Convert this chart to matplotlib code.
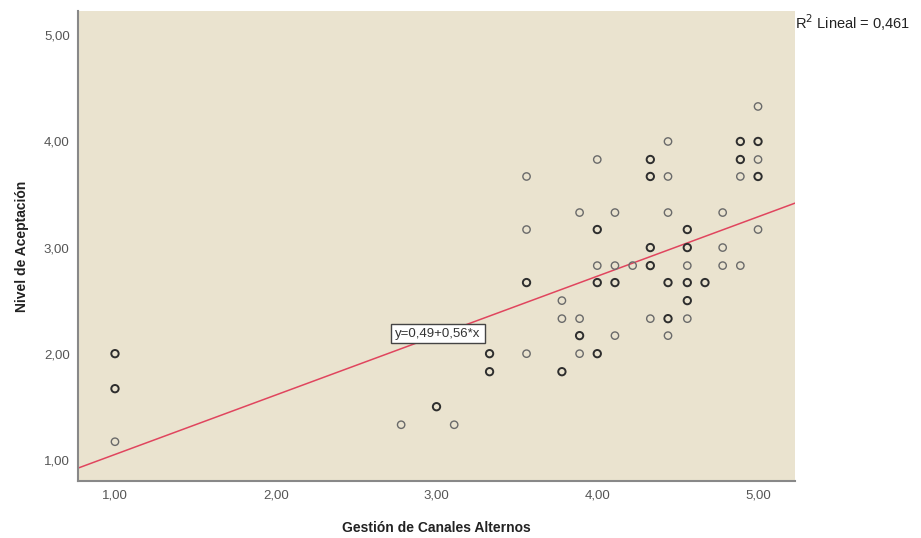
#!/usr/bin/env python3
"""SPSS-style scatter: Gestión de Canales Alternos vs Nivel de Aceptación."""

import matplotlib
matplotlib.use("Agg")
import matplotlib.pyplot as plt
import numpy as np

# Points (x, y) and number of cases stacked on each one.
gestion = [
    1.00, 1.00, 1.00,
    2.78, 3.00, 3.11,
    3.33, 3.33,
    3.56, 3.56, 3.56, 3.56,
    3.78, 3.78, 3.78,
    3.89, 3.89, 3.89, 3.89,
    4.00, 4.00, 4.00, 4.00, 4.00,
    4.11, 4.11, 4.11, 4.11,
    4.22,
    4.33, 4.33, 4.33, 4.33, 4.33,
    4.44, 4.44, 4.44, 4.44, 4.44, 4.44,
    4.56, 4.56, 4.56, 4.56, 4.56, 4.56,
    4.67,
    4.78, 4.78, 4.78,
    4.89, 4.89, 4.89, 4.89,
    5.00, 5.00, 5.00, 5.00, 5.00,
]
aceptacion = [
    2.00, 1.67, 1.17,
    1.33, 1.50, 1.33,
    2.00, 1.83,
    3.67, 3.17, 2.67, 2.00,
    2.50, 2.33, 1.83,
    3.33, 2.33, 2.17, 2.00,
    3.83, 3.17, 2.83, 2.67, 2.00,
    3.33, 2.83, 2.67, 2.17,
    2.83,
    3.83, 3.67, 3.00, 2.83, 2.33,
    4.00, 3.67, 3.33, 2.67, 2.33, 2.17,
    3.17, 3.00, 2.83, 2.67, 2.50, 2.33,
    2.67,
    3.33, 3.00, 2.83,
    4.00, 3.83, 3.67, 2.83,
    4.33, 4.00, 3.83, 3.67, 3.17,
]
casos = [
    2, 2, 1,
    1, 2, 1,
    2, 2,
    1, 1, 2, 1,
    1, 1, 2,
    1, 1, 2, 1,
    1, 2, 1, 2, 2,
    1, 1, 2, 1,
    1,
    2, 2, 2, 2, 1,
    1, 1, 1, 2, 2, 1,
    2, 2, 1, 2, 2, 1,
    2,
    1, 1, 1,
    2, 2, 1, 1,
    1, 2, 1, 2, 1,
]

intercepto = 0.49
pendiente = 0.56
r2 = 0.461

x_ticks = [1, 2, 3, 4, 5]
y_ticks = [1, 2, 3, 4, 5]

FONT = ["Liberation Sans", "DejaVu Sans"]


def coma(v):
    return f"{v:.2f}".replace(".", ",")


def main():
    fig = plt.figure(figsize=(9.21, 5.38), dpi=100, facecolor="white")
    ax = fig.add_axes([0.0847, 0.106, 0.7785, 0.8736], facecolor="#EAE3CF")

    xlim = (0.77, 5.23)
    ylim = (0.80, 5.23)

    x = np.array(gestion)
    y = np.array(aceptacion)
    n = np.array(casos)
    edge = np.where(n > 1, "#2e2e2e", "#6a6a6a")
    lw = np.where(n > 1, 1.4, 1.0)
    ax.scatter(x, y, s=28, facecolors="none", edgecolors=edge, linewidths=lw, zorder=3)

    # Linear fit line across the full x range.
    xs = np.array(xlim)
    ax.plot(xs, intercepto + pendiente * xs, color="#E0455E", lw=1.1, zorder=2)

    ax.text(3.01, 2.19, f"y={coma(intercepto)}+{coma(pendiente)}*x", ha="center", va="center",
            fontsize=9.5, family=FONT, color="#333333", zorder=4,
            bbox=dict(boxstyle="square,pad=0.3", fc="white", ec="#444444", lw=1.0))

    fig.text(0.8635, 0.957, f"R$^2$ Lineal = {r2:.3f}".replace(".", ","), ha="left", va="center",
             fontsize=10.5, family=FONT, color="#222222")

    ax.set_xlim(*xlim)
    ax.set_ylim(*ylim)
    ax.set_xticks(x_ticks)
    ax.set_yticks(y_ticks)
    ax.set_xticklabels([coma(t) for t in x_ticks], family=FONT, fontsize=9.5, color="#555555")
    ax.set_yticklabels([coma(t) for t in y_ticks], family=FONT, fontsize=9.5, color="#555555")
    ax.tick_params(length=0, pad=6)

    ax.set_xlabel("Gestión de Canales Alternos", family=FONT, fontsize=10, weight="bold",
                  color="#222222", labelpad=14)
    ax.set_ylabel("Nivel de Aceptación", family=FONT, fontsize=10, weight="bold",
                  color="#222222", labelpad=11)

    for side in ("top", "right"):
        ax.spines[side].set_visible(False)
    for side in ("left", "bottom"):
        ax.spines[side].set_color("#888888")
        ax.spines[side].set_linewidth(1.5)

    fig.savefig("out.png", dpi=100, facecolor=fig.get_facecolor())
    plt.close(fig)


if __name__ == "__main__":
    main()
